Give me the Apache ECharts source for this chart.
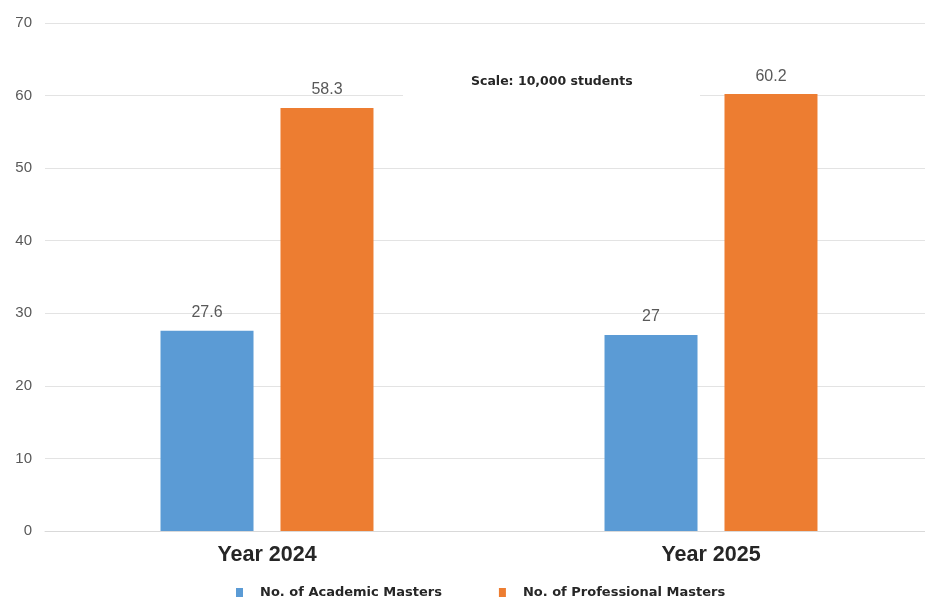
<!DOCTYPE html>
<html>
<head>
<meta charset="utf-8">
<script src="https://cdn.jsdelivr.net/npm/echarts@6/dist/echarts.min.js"></script>
<style>html,body{margin:0;padding:0;background:#fff;overflow:hidden;}#c{width:933px;height:597px;}</style>
</head>
<body>
<div id="c"></div>
<script>
const categories = ['Year 2024', 'Year 2025'];
const academic = [27.6, 27];
const professional = [58.3, 60.2];
const seriesNames = ['No. of Academic Masters', 'No. of Professional Masters'];
const yTicks = [0, 10, 20, 30, 40, 50, 60, 70];
const note = 'Scale: 10,000 students';

const chart = echarts.init(document.getElementById('c'));
const labelStyle = {
  show: true, position: 'top', distance: 10,
  fontFamily: 'Liberation Sans, Arial, sans-serif', fontSize: 16, color: '#595959'
};
chart.setOption({
  animation: false,
  grid: { left: 45, right: 0, top: 23, bottom: 66, containLabel: false },
  legend: {
    data: seriesNames,
    left: 231, top: 581,
    icon: 'rect', itemWidth: 7, itemHeight: 9, itemGap: 57,
    textStyle: { fontFamily: 'DejaVu Sans, Verdana, sans-serif', fontWeight: 'bold', fontSize: 13, color: '#262626', padding: [0, 0, 0, 12] }
  },
  xAxis: {
    type: 'category', data: categories,
    axisLine: { lineStyle: { color: '#d9d9d9' } },
    axisTick: { show: false },
    axisLabel: { fontFamily: 'Liberation Sans, Arial, sans-serif', fontWeight: 'bold', fontSize: 21.5, color: '#262626', margin: 13 }
  },
  yAxis: {
    type: 'value', min: yTicks[0], max: yTicks[yTicks.length - 1], interval: 10,
    axisLine: { show: false }, axisTick: { show: false },
    splitLine: { lineStyle: { color: '#e3e3e3' } },
    axisLabel: { fontFamily: 'Liberation Sans, Arial, sans-serif', fontSize: 15, color: '#595959', margin: 13 }
  },
  series: [
    { name: seriesNames[0], type: 'bar', data: academic, barWidth: 93, barGap: '29%',
      itemStyle: { color: '#5B9BD5' }, label: labelStyle },
    { name: seriesNames[1], type: 'bar', data: professional, barWidth: 93,
      itemStyle: { color: '#ED7D31' }, label: labelStyle }
  ],
  graphic: [
    { type: 'rect', z: 100, shape: { x: 403, y: 66, width: 297, height: 34 }, style: { fill: '#fff' } },
    { type: 'text', z: 101, left: 471, top: 75,
      style: { text: note, fontFamily: 'DejaVu Sans, Verdana, sans-serif', fontWeight: 'bold', fontSize: 12.5, fill: '#262626' } }
  ]
});
</script>
</body>
</html>
